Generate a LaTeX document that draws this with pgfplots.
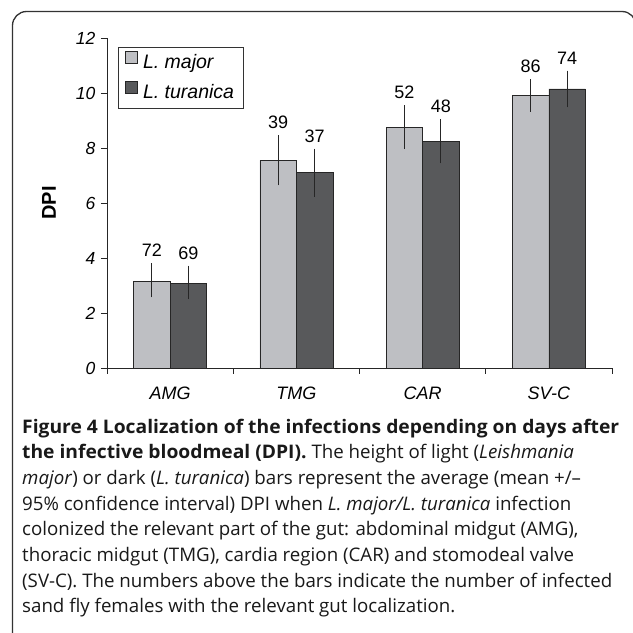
\documentclass[border=0pt]{standalone}
\usepackage{pgfplots}
\pgfplotsset{compat=1.18}
\usepackage{fontspec}
\setmainfont{Liberation Sans}
\newfontfamily\capfont{Open Sans}[BoldFeatures={FakeStretch=1.03}]
\definecolor{lightbar}{HTML}{BEBFC3}
\definecolor{darkbar}{HTML}{58595B}

\begin{document}
\begin{tikzpicture}
\useasboundingbox (0pt,0pt) rectangle (633pt,633pt);
\fill[white] (0pt,0pt) rectangle (633pt,633pt);
% frame of the figure panel (cut at right and bottom)
\draw[line width=1.3pt, black!80, rounded corners=14pt]
  (12.5pt,-20pt) -- (12.5pt,621.5pt) -- (636pt,621.5pt) -- (636pt,560pt);

\begin{axis}[
  at={(107pt,265pt)}, anchor=south west,
  scale only axis, width=505pt, height=330pt,
  xmin=-0.5, xmax=3.5, ymin=0, ymax=12,
  axis x line*=bottom, axis y line*=left,
  axis line style={black!85, line width=0.8pt},
  tick style={black!85, line width=0.8pt},
  tick align=outside, major tick length=6pt,
  ytick={0,2,...,12},
  xtick={-0.5,0.5,1.5,2.5,3.5}, xticklabels={},
  extra x ticks={0,1,2,3},
  extra x tick labels={AMG,TMG,CAR,SV-C},
  extra x tick style={major tick length=0pt,
    tick label style={font=\fontsize{18}{21}\selectfont\itshape, yshift=-15pt}},
  /pgf/number format/assume math mode=true,
  yticklabel style={font=\fontsize{17.5}{21}\selectfont\itshape, xshift=-2pt},
  ylabel={\bfseries DPI},
  ylabel style={at={(axis description cs:-0.115,0.5)}, anchor=center,
    font=\fontsize{20}{24}\selectfont},
  legend style={at={(axis description cs:0.0218,0.973)}, anchor=north west,
    draw=black!80, line width=0.8pt, font=\fontsize{19.5}{23}\selectfont\itshape,
    inner xsep=7pt, inner ysep=3.5pt, row sep=7pt,
    nodes={text height=14pt, text depth=4pt, inner sep=2pt},
    /tikz/every odd column/.append style={column sep=3pt}},
  legend image code/.code={\draw[#1, line width=0.6pt] (0pt,0pt) rectangle (12pt,12pt);},
  legend cell align=left,
]

% bars are placed at category +/- half a bar width (36.5pt = 0.1446 units)
\addplot[ybar, bar width=36.5pt, bar shift=0pt, fill=lightbar, draw=black!85,
  line width=0.6pt,
  error bars/.cd, y dir=both, y explicit, error mark=none,
  error bar style={black!85, line width=0.8pt}]
coordinates {
  (-0.1446,3.16) += (0,0.64) -= (0,0.59)
  (0.8554,7.55)  += (0,0.92) -= (0,0.91)
  (1.8554,8.76)  += (0,0.80) -= (0,0.80)
  (2.8554,9.90)  += (0,0.60) -= (0,0.58)
};
\addlegendentry{L. major}

\addplot[ybar, bar width=36.5pt, bar shift=0pt, fill=darkbar, draw=black!85,
  line width=0.6pt,
  error bars/.cd, y dir=both, y explicit, error mark=none,
  error bar style={black!85, line width=0.8pt}]
coordinates {
  (0.1446,3.09)  += (0,0.62) -= (0,0.59)
  (1.1446,7.11)  += (0,0.86) -= (0,0.88)
  (2.1446,8.25)  += (0,0.80) -= (0,0.81)
  (3.1446,10.15) += (0,0.66) -= (0,0.67)
};
\addlegendentry{L. turanica}

% numbers of infected females, placed above the error bar tops
\addplot[forget plot, only marks, mark=*, mark size=0pt,
  point meta=explicit symbolic, nodes near coords,
  nodes near coords style={font=\fontsize{18}{21}\selectfont, anchor=south, yshift=3pt}]
coordinates {
  (-0.1446,3.80) [72] (0.8554,8.47) [39] (1.8554,9.56) [52] (2.8554,10.50) [86]
  (0.1446,3.71) [69] (1.1446,7.97) [37] (2.1446,9.05) [48] (3.1446,10.81) [74]
};
\end{axis}

\node[anchor=base west, align=left, inner sep=0pt,
  font=\capfont\fontsize{18.7}{25.7}\selectfont, text=black!90] at (22pt,20pt) {%
\textbf{Figure 4 Localization of the infections depending on days after}\\
\textbf{the infective bloodmeal (DPI).} The height of light (\textit{Leishmania}\\
\textit{major}) or dark (\textit{L. turanica}) bars represent the average (mean +/–\\
95\% confidence interval) DPI when \textit{L. major/L. turanica} infection\\
colonized the relevant part of the gut: abdominal midgut (AMG),\\
thoracic midgut (TMG), cardia region (CAR) and stomodeal valve\\
(SV-C). The numbers above the bars indicate the number of infected\\
sand fly females with the relevant gut localization.};
\end{tikzpicture}
\end{document}
